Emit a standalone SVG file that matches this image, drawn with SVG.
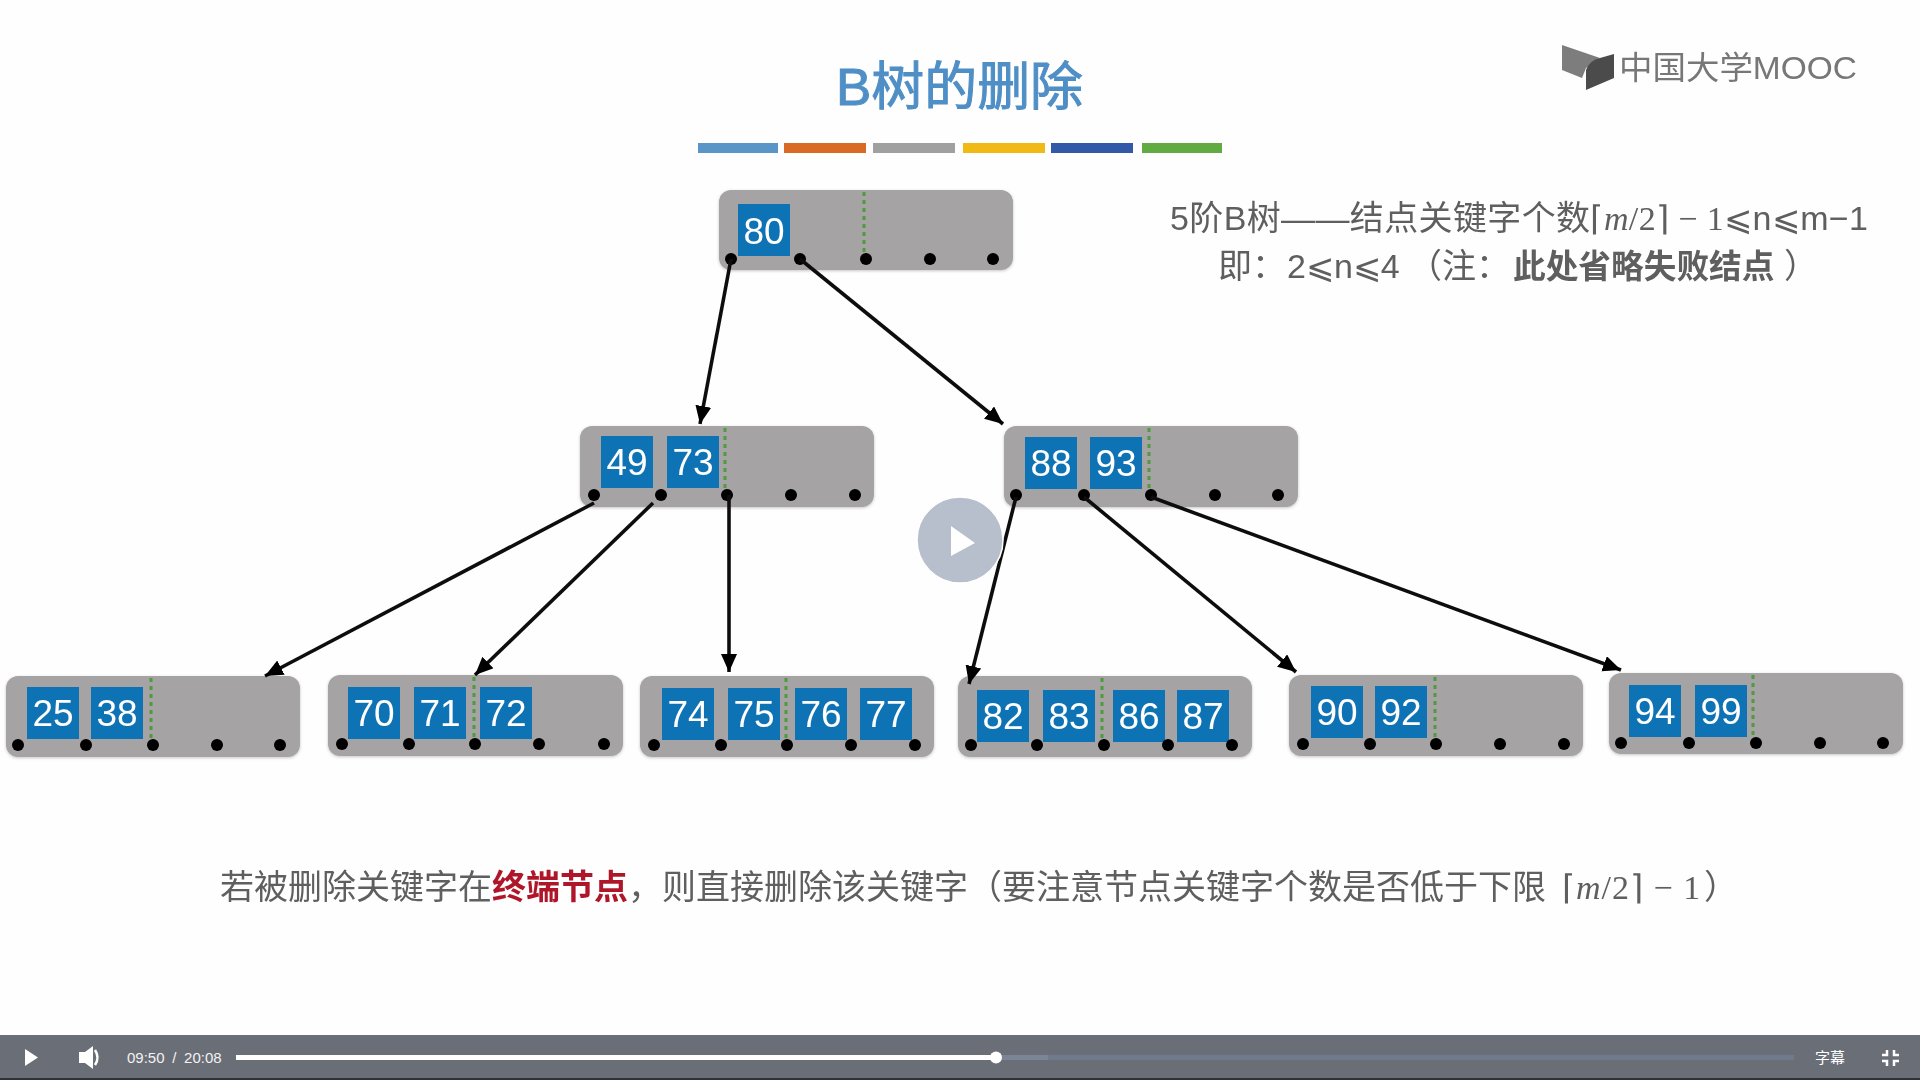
<svg xmlns="http://www.w3.org/2000/svg" width="1920" height="1080" viewBox="0 0 1920 1080">
<defs>
<style>
text{font-family:"Liberation Sans","Noto Sans CJK SC",sans-serif}
.nd{fill:#a5a3a4}
.k{fill:#1173b5}
.kt{fill:#fff;font-size:37px;text-anchor:middle}
.g{stroke:#4f9a3c;stroke-width:3;stroke-dasharray:4 4;fill:none}
.d{fill:#000}
.c{stroke:#111;stroke-width:3.6;fill:none;marker-end:url(#a)}
.t{fill:#5e5e5e;font-size:34px}
.m{font-family:"Liberation Serif",serif}
.i{font-style:italic}
</style>
<marker id="a" markerUnits="userSpaceOnUse" markerWidth="20" markerHeight="18" refX="18" refY="8" orient="auto"><path d="M0 0L18 8L0 16Z" fill="#000"/></marker>
<filter id="s" x="-5%" y="-10%" width="110%" height="125%"><feDropShadow dx="0" dy="1" stdDeviation="1.5" flood-color="#000" flood-opacity=".22"/></filter>
<filter id="b"><feGaussianBlur stdDeviation="0.55"/></filter>
</defs>
<rect width="1920" height="1080" fill="#fefefe"/>
<g filter="url(#b)">
<text id="title" x="836" y="105" font-size="52" fill="#4f8fc6" stroke="#4f8fc6" stroke-width="1" textLength="247" lengthAdjust="spacingAndGlyphs">B树的删除</text>
<g id="colour-bars">
<rect x="698" y="143" width="80" height="10" fill="#5a95c8"/>
<rect x="784" y="143" width="82" height="10" fill="#d96a26"/>
<rect x="873" y="143" width="82" height="10" fill="#a0a0a0"/>
<rect x="963" y="143" width="82" height="10" fill="#f0b916"/>
<rect x="1051" y="143" width="82" height="10" fill="#3059a8"/>
<rect x="1142" y="143" width="80" height="10" fill="#62ab42"/>
</g>
<g id="logo">
<path d="M1562 45L1600 58L1586 68L1582 78L1562 70Z" fill="#7d7d7d"/>
<path d="M1614 54V78L1586 90V70Q1590 60 1600 58Z" fill="#4c4c4c"/>
<text x="1619" y="79" font-size="32" fill="#777" textLength="238" lengthAdjust="spacingAndGlyphs">中国大学MOOC</text>
</g>
<text id="rule" class="t" x="1170" y="230" textLength="698" lengthAdjust="spacing">5阶B树——结点关键字个数<tspan class="m">⌈<tspan class="i">m</tspan>/2⌉ − 1</tspan>⩽n⩽m−1</text>
<text id="rule2" class="t" y="278"><tspan x="1218">即：</tspan><tspan x="1287">2⩽n⩽4</tspan><tspan x="1408">（注：</tspan><tspan x="1513" font-weight="700" style="font-size:32.700px">此处省略失败结点</tspan><tspan x="1784">）</tspan></text>
<text id="note" class="t" x="220" y="899">若被删除关键字在<tspan fill="#b0182a" font-weight="700">终端节点</tspan>，则直接删除该关键字（要注意节点关键字个数是否低于下限<tspan class="m" x="1562" letter-spacing="1">⌈<tspan class="i">m</tspan>/2⌉ − 1</tspan><tspan x="1704">）</tspan></text>

<g id="n80"><rect class="nd" filter="url(#s)" x="719" y="190" width="294" height="80" rx="12"/>
<rect class="k" x="738" y="204" width="52" height="52"/><text class="kt" x="764" y="244">80</text>
<path class="g" d="M864 192V256"/>
<circle class="d" cx="731" cy="259" r="6"/><circle class="d" cx="800" cy="259" r="6"/><circle class="d" cx="866" cy="259" r="6"/><circle class="d" cx="930" cy="259" r="6"/><circle class="d" cx="993" cy="259" r="6"/></g>

<g id="n49-73"><rect class="nd" filter="url(#s)" x="580" y="426" width="294" height="81" rx="12"/>
<rect class="k" x="601" y="436" width="52" height="52"/><text class="kt" x="627" y="475">49</text>
<rect class="k" x="667" y="436" width="52" height="52"/><text class="kt" x="693" y="475">73</text>
<path class="g" d="M725 428V492"/>
<circle class="d" cx="594" cy="495" r="6"/><circle class="d" cx="661" cy="495" r="6"/><circle class="d" cx="727" cy="495" r="6"/><circle class="d" cx="791" cy="495" r="6"/><circle class="d" cx="855" cy="495" r="6"/></g>

<g id="n88-93"><rect class="nd" filter="url(#s)" x="1004" y="426" width="294" height="81" rx="12"/>
<rect class="k" x="1025" y="437" width="52" height="52"/><text class="kt" x="1051" y="476">88</text>
<rect class="k" x="1090" y="437" width="52" height="52"/><text class="kt" x="1116" y="476">93</text>
<path class="g" d="M1149 428V492"/>
<circle class="d" cx="1016" cy="495" r="6"/><circle class="d" cx="1084" cy="495" r="6"/><circle class="d" cx="1151" cy="495" r="6"/><circle class="d" cx="1215" cy="495" r="6"/><circle class="d" cx="1278" cy="495" r="6"/></g>

<g id="n25-38"><rect class="nd" filter="url(#s)" x="6" y="676" width="294" height="81" rx="12"/>
<rect class="k" x="27" y="687" width="52" height="52"/><text class="kt" x="53" y="726">25</text>
<rect class="k" x="91" y="687" width="52" height="52"/><text class="kt" x="117" y="726">38</text>
<path class="g" d="M151 678V742"/>
<circle class="d" cx="18" cy="745" r="6"/><circle class="d" cx="86" cy="745" r="6"/><circle class="d" cx="153" cy="745" r="6"/><circle class="d" cx="217" cy="745" r="6"/><circle class="d" cx="280" cy="745" r="6"/></g>

<g id="n70-72"><rect class="nd" filter="url(#s)" x="328" y="675" width="295" height="81" rx="12"/>
<rect class="k" x="348" y="687" width="52" height="52"/><text class="kt" x="374" y="726">70</text>
<rect class="k" x="414" y="687" width="52" height="52"/><text class="kt" x="440" y="726">71</text>
<rect class="k" x="480" y="687" width="52" height="52"/><text class="kt" x="506" y="726">72</text>
<path class="g" d="M474 677V741"/>
<circle class="d" cx="342" cy="744" r="6"/><circle class="d" cx="409" cy="744" r="6"/><circle class="d" cx="475" cy="744" r="6"/><circle class="d" cx="539" cy="744" r="6"/><circle class="d" cx="604" cy="744" r="6"/></g>

<g id="n74-77"><rect class="nd" filter="url(#s)" x="640" y="676" width="294" height="81" rx="12"/>
<rect class="k" x="662" y="688" width="52" height="52"/><text class="kt" x="688" y="727">74</text>
<rect class="k" x="728" y="688" width="52" height="52"/><text class="kt" x="754" y="727">75</text>
<rect class="k" x="795" y="688" width="52" height="52"/><text class="kt" x="821" y="727">76</text>
<rect class="k" x="860" y="688" width="52" height="52"/><text class="kt" x="886" y="727">77</text>
<path class="g" d="M786 678V742"/>
<circle class="d" cx="654" cy="745" r="6"/><circle class="d" cx="721" cy="745" r="6"/><circle class="d" cx="787" cy="745" r="6"/><circle class="d" cx="851" cy="745" r="6"/><circle class="d" cx="915" cy="745" r="6"/></g>

<g id="n82-87"><rect class="nd" filter="url(#s)" x="958" y="676" width="294" height="81" rx="12"/>
<rect class="k" x="977" y="690" width="52" height="52"/><text class="kt" x="1003" y="729">82</text>
<rect class="k" x="1043" y="690" width="52" height="52"/><text class="kt" x="1069" y="729">83</text>
<rect class="k" x="1113" y="690" width="52" height="52"/><text class="kt" x="1139" y="729">86</text>
<rect class="k" x="1177" y="690" width="52" height="52"/><text class="kt" x="1203" y="729">87</text>
<path class="g" d="M1102 678V742"/>
<circle class="d" cx="971" cy="745" r="6"/><circle class="d" cx="1037" cy="745" r="6"/><circle class="d" cx="1104" cy="745" r="6"/><circle class="d" cx="1168" cy="745" r="6"/><circle class="d" cx="1232" cy="745" r="6"/></g>

<g id="n90-92"><rect class="nd" filter="url(#s)" x="1289" y="675" width="294" height="81" rx="12"/>
<rect class="k" x="1311" y="686" width="52" height="52"/><text class="kt" x="1337" y="725">90</text>
<rect class="k" x="1375" y="686" width="52" height="52"/><text class="kt" x="1401" y="725">92</text>
<path class="g" d="M1435 677V741"/>
<circle class="d" cx="1303" cy="744" r="6"/><circle class="d" cx="1370" cy="744" r="6"/><circle class="d" cx="1436" cy="744" r="6"/><circle class="d" cx="1500" cy="744" r="6"/><circle class="d" cx="1564" cy="744" r="6"/></g>

<g id="n94-99"><rect class="nd" filter="url(#s)" x="1609" y="673" width="294" height="81" rx="12"/>
<rect class="k" x="1629" y="685" width="52" height="52"/><text class="kt" x="1655" y="724">94</text>
<rect class="k" x="1695" y="685" width="52" height="52"/><text class="kt" x="1721" y="724">99</text>
<path class="g" d="M1753 675V739"/>
<circle class="d" cx="1621" cy="743" r="6"/><circle class="d" cx="1689" cy="743" r="6"/><circle class="d" cx="1756" cy="743" r="6"/><circle class="d" cx="1820" cy="743" r="6"/><circle class="d" cx="1883" cy="743" r="6"/></g>

<g id="connectors">
<path class="c" d="M731 259L700 424"/>
<path class="c" d="M800 259L1003 424"/>
<path class="c" d="M594 503L265 676"/>
<path class="c" d="M653 503L475 675"/>
<path class="c" d="M729 495L729 672"/>
<path class="c" d="M1016 497L969 684"/>
<path class="c" d="M1084 497L1296 672"/>
<path class="c" d="M1151 497L1621 670"/>
</g>
</g>
<g id="play-overlay">
<circle cx="960" cy="540" r="43" fill="#b7bfcc" stroke="#fff" stroke-width="1.500"/>
<path d="M951 526L975 543L951 556Z" fill="#fff"/>
</g>
<g id="player-bar">
<rect y="1035" width="1920" height="45" fill="#6a6e77"/>
<rect y="1078" width="1920" height="2" fill="#2e3138"/>
<path d="M25 1049L38 1057.500L25 1066Z" fill="#fff"/>
<path d="M79 1052H85L93 1046V1069L85 1063H79Z" fill="#fff"/>
<path d="M95 1050Q100 1057.500 95 1065" stroke="#fff" stroke-width="2.500" fill="none"/>
<text x="127" y="1063" font-size="15" fill="#f2f2f2" word-spacing="3.500">09:50 / 20:08</text>
<rect x="236" y="1055" width="1558" height="5" fill="#6f7a8c"/>
<rect x="996" y="1055" width="52" height="5" fill="#7b8595"/>
<rect x="236" y="1055" width="760" height="5" fill="#fff"/>
<circle cx="996" cy="1057.500" r="6" fill="#fff"/>
<text x="1815" y="1063" font-size="15" fill="#fff">字幕</text>
<path d="M1887 1050V1055H1882M1894 1050V1055H1899M1887 1066V1061H1882M1894 1066V1061H1899" stroke="#fff" stroke-width="2.500" fill="none"/>
</g>
</svg>
